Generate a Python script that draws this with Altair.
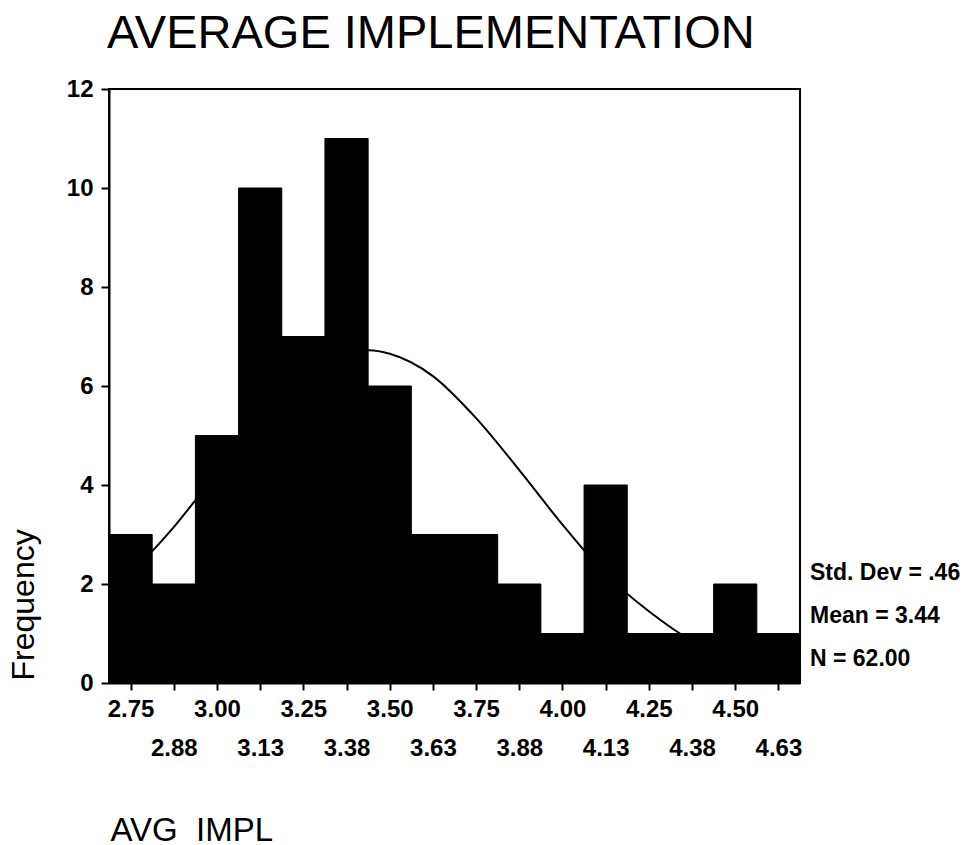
import altair as alt
import pandas as pd

# ---- data ----
bin_centers = [2.75, 2.875, 3.0, 3.125, 3.25, 3.375, 3.5, 3.625, 3.75, 3.875,
               4.0, 4.125, 4.25, 4.375, 4.5, 4.625]
counts = [3, 2, 5, 10, 7, 11, 6, 3, 3, 2, 1, 4, 1, 1, 2, 1]
bin_width = 0.125
tick_labels = ["2.75", "2.88", "3.00", "3.13", "3.25", "3.38", "3.50", "3.63",
               "3.75", "3.88", "4.00", "4.13", "4.25", "4.38", "4.50", "4.63"]
y_ticks = [0, 2, 4, 6, 8, 10, 12]

curve_x = [2.6875, 2.75, 2.875, 3.0, 3.125, 3.25, 3.375, 3.44, 3.5, 3.625,
           3.75, 3.875, 4.0, 4.125, 4.25, 4.375, 4.5, 4.625, 4.6875]
curve_y = [1.75, 2.2, 3.15, 4.25, 5.3, 6.15, 6.65, 6.72, 6.65, 6.2,
           5.35, 4.3, 3.2, 2.2, 1.45, 0.85, 0.47, 0.24, 0.17]

stat_names = ["Std. Dev", "Mean", "N"]
stat_values = [".46", "3.44", "62.00"]

title_text = "AVERAGE IMPLEMENTATION"
x_title = "AVG_IMPL"
y_title = "Frequency"

FONT = "Liberation Sans"
W, H = 691, 594
LEFT, TOP = 109, 89

bars_df = pd.DataFrame({
    "center": bin_centers,
    "count": counts,
})
bars_df["lo"] = bars_df["center"] - bin_width / 2
bars_df["hi"] = bars_df["center"] + bin_width / 2

curve_df = pd.DataFrame({"x": curve_x, "y": curve_y})

x_domain = [bin_centers[0] - bin_width / 2, bin_centers[-1] + bin_width / 2]

vals_js = "[" + ", ".join(repr(v) for v in bin_centers) + "]"
labs_js = "[" + ", ".join("'" + s + "'" for s in tick_labels) + "]"
idx = f"indexof({vals_js}, datum.value)"
label_expr = f"{idx} % 2 == 1 ? ['', {labs_js}[{idx}]] : {labs_js}[{idx}]"

x_scale = alt.Scale(domain=x_domain, nice=False, zero=False)
y_scale = alt.Scale(domain=[0, 12], nice=False)

x_axis = alt.Axis(
    values=bin_centers, labelExpr=label_expr,
    labelFont=FONT, labelFontSize=24, labelFontWeight="bold", labelColor="black",
    labelLineHeight=39, labelPadding=7, labelOverlap=False, labelFlush=False,
    tickSize=7, tickWidth=2, tickColor="black",
    domainColor="black", domainWidth=2, grid=False,
    title=x_title, titleFont=FONT, titleFontSize=33, titleFontWeight="normal",
    titleColor="black", titleAnchor="start", titleAlign="left",
    titleBaseline="alphabetic", titleX=1, titleY=157,
)
y_axis = alt.Axis(
    values=y_ticks, format="d",
    labelFont=FONT, labelFontSize=24, labelFontWeight="bold", labelColor="black",
    labelPadding=8, labelFlush=False,
    tickSize=8, tickWidth=2, tickColor="black",
    domainColor="black", domainWidth=2, grid=False,
    title=y_title, titleFont=FONT, titleFontSize=32, titleFontWeight="normal",
    titleColor="black", titleAngle=270, titleAlign="left",
    titleBaseline="alphabetic", titleX=-76, titleY=591,
)

bars = alt.Chart(bars_df).mark_rect(
    color="black", stroke="black", strokeWidth=1
).encode(
    x=alt.X("lo:Q", scale=x_scale, axis=x_axis),
    x2="hi:Q",
    y=alt.Y("count:Q", scale=y_scale, axis=y_axis),
    y2=alt.datum(0),
)

curve = alt.Chart(curve_df).mark_line(
    color="black", strokeWidth=2, interpolate="monotone", clip=True
).encode(
    x=alt.X("x:Q", scale=x_scale),
    y=alt.Y("y:Q", scale=y_scale),
)

stat_lines = [f"{n} = {v}" for n, v in zip(stat_names, stat_values)]
stats = alt.Chart(alt.Data(values=[{"k": 1}])).mark_text(
    text=stat_lines, align="left", baseline="alphabetic",
    font=FONT, fontSize=23, fontWeight="bold", color="black", lineHeight=43,
).encode(
    x=alt.value(W + 10),
    y=alt.value(491),
)

chart = alt.layer(bars, curve, stats).properties(
    width=W, height=H,
    title=alt.TitleParams(
        text=title_text, font=FONT, fontSize=47, fontWeight="normal",
        color="black", anchor="start", frame="group", baseline="bottom",
        offset=0, dx=-2, dy=28,
    ),
    autosize=alt.AutoSizeParams(type="none"),
    padding={"left": LEFT, "top": TOP, "right": 974 - LEFT - W, "bottom": 845 - TOP - H},
    background="white",
).configure_view(
    stroke="black", strokeWidth=2
)

chart.save("out.html", embed_options={"renderer": "svg", "actions": False})
